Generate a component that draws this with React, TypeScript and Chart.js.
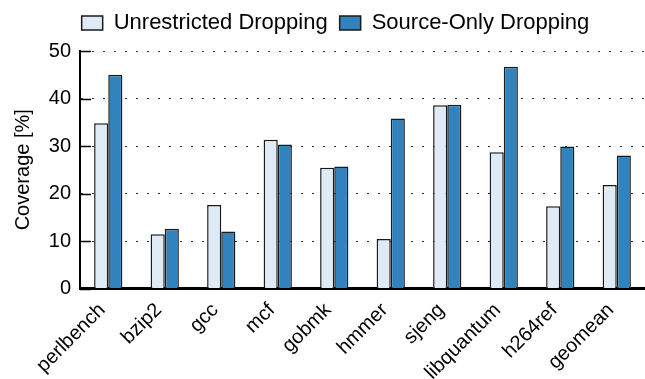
import React, { useEffect, useRef } from 'react';
import { Chart, registerables } from 'chart.js';

Chart.register(...registerables);

const categories = ['perlbench', 'bzip2', 'gcc', 'mcf', 'gobmk', 'hmmer', 'sjeng', 'libquantum', 'h264ref', 'geomean'];
const unrestricted = [34.8, 11.4, 17.6, 31.3, 25.4, 10.4, 38.6, 28.7, 17.3, 21.8];
const sourceOnly = [45.0, 12.6, 12.0, 30.3, 25.7, 35.8, 38.7, 46.7, 29.9, 28.0];
const yMin = 0;
const yMax = 50;
const yStep = 10;

const FONT = '"Liberation Sans", Arial, Helvetica, sans-serif';

const inwardTicks = {
  id: 'inwardTicks',
  beforeDatasetsDraw(chart: any) {
    const y = chart.scales.y;
    const ctx = chart.ctx;
    const left = chart.chartArea.left;
    ctx.save();
    ctx.strokeStyle = '#000';
    ctx.lineWidth = 1.5;
    y.ticks.forEach((_t: any, i: number) => {
      const py = Math.round(y.getPixelForTick(i)) + 0.5;
      ctx.beginPath();
      ctx.moveTo(left, py);
      ctx.lineTo(left + 11, py);
      ctx.stroke();
    });
    ctx.restore();
  },
};

const legendShift = {
  id: 'legendShift',
  afterLayout(chart: any) {
    const l = chart.legend;
    if (l) {
      l.left += 13;
      l.right += 13;
      l.top -= 7;
      l.bottom -= 7;
    }
  },
};

export default function App() {
  const ref = useRef<HTMLCanvasElement | null>(null);

  useEffect(() => {
    if (!ref.current) return;
    const chart = new Chart(ref.current, {
      type: 'bar',
      data: {
        labels: categories,
        datasets: [
          {
            label: 'Unrestricted Dropping',
            data: unrestricted,
            backgroundColor: '#deebf7',
            borderColor: '#1a1a1a',
            borderWidth: 1.5,
            categoryPercentage: 0.5,
            barPercentage: 1.0,
          },
          {
            label: 'Source-Only Dropping',
            data: sourceOnly,
            backgroundColor: '#3182bd',
            borderColor: '#1a1a1a',
            borderWidth: 1.5,
            categoryPercentage: 0.5,
            barPercentage: 1.0,
          },
        ],
      },
      options: {
        animation: false,
        responsive: true,
        maintainAspectRatio: false,
        layout: { padding: { top: 7, left: 0, right: 0, bottom: 0 } },
        plugins: {
          tooltip: { enabled: false },
          legend: {
            display: true,
            position: 'top',
            align: 'center',
            labels: {
              boxWidth: 21,
              boxHeight: 14,
              padding: 12,
              color: '#000',
              font: { family: FONT, size: 22 },
            },
          },
        },
        scales: {
          x: {
            grid: { display: false, drawTicks: false },
            border: { display: true, color: '#000', width: 3 },
            ticks: {
              color: '#000',
              font: { family: FONT, size: 20 },
              maxRotation: 45,
              minRotation: 45,
              padding: 10,
              labelOffset: -6,
              autoSkip: false,
            },
            afterFit: (s: any) => {
              s.height = 90.5;
            },
          },
          y: {
            min: yMin,
            max: yMax,
            ticks: {
              stepSize: yStep,
              color: '#000',
              font: { family: FONT, size: 20 },
              padding: 9,
            },
            grid: {
              drawTicks: false,
              color: (c: any) => (c.tick && c.tick.value === 0 ? 'rgba(0,0,0,0)' : '#333'),
              lineWidth: 1,
            },
            border: { display: true, color: '#000', width: 2, dash: [2, 9] } as any,
            title: {
              display: true,
              text: 'Coverage [%]',
              color: '#000',
              font: { family: FONT, size: 20 },
              padding: { top: 11, bottom: 10 },
            },
            afterFit: (s: any) => {
              s.width = 80;
            },
          },
        },
      },
      plugins: [inwardTicks, legendShift],
    });
    return () => chart.destroy();
  }, []);

  return (
    <div style={{ position: 'absolute', left: 0, top: 0, width: 645, height: 379, background: '#fff' }}>
      <canvas ref={ref} />
    </div>
  );
}
